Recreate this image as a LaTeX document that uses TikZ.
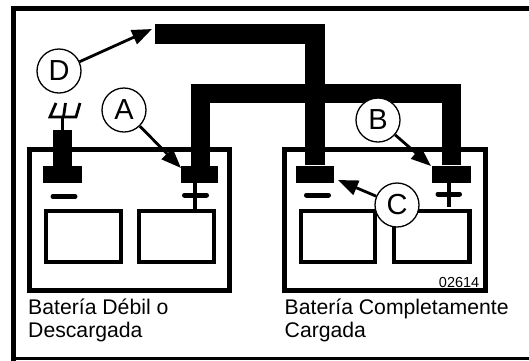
\documentclass[tikz,border=0pt]{standalone}
\usepackage{fontspec}
\setmainfont{Liberation Sans}
\usetikzlibrary{arrows.meta}
\tikzset{
  x=1pt,y=-1pt,
  solid box/.style={fill=black,draw=none,inner sep=0pt,minimum height=17pt},
  outline/.style={draw=black,line width=4.4pt,fill=none},
  callout/.style={circle,draw=black,fill=white,line width=1.3pt,minimum size=44pt,inner sep=0pt,font=\fontsize{29}{29}\selectfont},
  pointer/.style={draw=black,line width=2.8pt,-{Triangle[length=20pt,width=15pt]}},
  cable/.style={draw=black,line width=19pt,line cap=butt,line join=miter},
  caption/.style={anchor=base west,inner sep=0pt,font=\fontsize{21.2}{21.2}\selectfont},
}
\begin{document}
\begin{tikzpicture}
\useasboundingbox (0,0) rectangle (529,360);
% outer frame
\draw[draw=black,line width=5.5pt] (13.7,362) -- (13.7,8.7) -- (532,8.7);
\draw[draw=black,line width=2.5pt] (13.7,358.7) -- (532,358.7);
% batteries
\draw[outline,line width=5pt] (29.5,149.5) rectangle (229.7,290.7);
\draw[outline,line width=5pt] (284.2,149.5) rectangle (485.2,290.7);
% cells
\draw[outline] (45.7,211.2) rectangle (120.8,261.8);
\draw[outline] (138.7,211.2) rectangle (213.8,261.8);
\draw[outline] (301.2,211.2) rectangle (374.8,261.8);
\draw[outline] (394.2,211.2) rectangle (469.5,261.8);
% terminals
\node[solid box,minimum width=38.5pt] (t1) at (62.7,174.5) {};
\node[solid box,minimum width=37.5pt] (t2) at (199.7,174.5) {};
\node[solid box,minimum width=38pt] (t3) at (315,174) {};
\node[solid box,minimum width=39pt] (t4) at (451.2,174) {};
% cables
\coordinate (upstart) at (155,34);
\coordinate (upcorner) at (315.2,34);
\coordinate (lowleft) at (200,93.5);
\coordinate (lowright) at (451.3,93.5);
\draw[cable,line width=20pt] (upstart) -- (upcorner) -- (upcorner |- t3.north);
\draw[cable] (t2.north -| lowleft) -- (lowleft) -- (lowright) -- (lowright |- t4.north);
% clamp post and plug
\coordinate (posttop) at (62.5,130);
\draw[cable] (posttop) -- (posttop |- t1.north);
\coordinate (forkbase) at (62.5,117);
\draw[line width=3pt,line cap=butt] (forkbase) -- (posttop);
\draw[line width=2.8pt,line join=miter] (56,103) -- (50,117) -- (76,117) -- (80,103);
\draw[line width=2.8pt] (63.5,117) -- (65.5,103);
% signs
\draw[line width=5pt,line cap=round] (53,196.5) -- (75,196.5);
\draw[line width=5pt,line cap=round] (184.5,195) -- (206.5,195);
\draw[line width=4pt] (195,183) -- (195,209);
\draw[line width=5pt,line cap=round] (306.5,195) -- (328.5,195);
\draw[line width=5pt,line cap=round] (438,194) -- (459.5,194);
\draw[line width=4pt] (449,183) -- (449,207);
% callouts
\node[callout] (D) at (59,71) {D};
\node[callout] (A) at (124,110) {A};
\node[callout] (B) at (378,120) {B};
\node[callout] (C) at (397,205) {C};
\coordinate (dtip) at (152,29);
\coordinate (atip) at (181,168);
\coordinate (btip) at (431,166);
\coordinate (ctip) at (338,180);
\draw[pointer] (D) -- (dtip);
\draw[pointer] (A) -- (atip);
\draw[pointer] (B) -- (btip);
\draw[pointer] (C) -- (ctip);
% texts
\node[caption] (cap1) at (28,314) {Batería Débil o};
\node[caption] (cap2) at (28,337) {Descargada};
\node[caption] (cap3) at (284.5,314) {Batería Completamente};
\node[caption] (cap4) at (284.5,337) {Cargada};
\node[anchor=base east,inner sep=0pt,font=\fontsize{14.5}{14.5}\selectfont] (num) at (479.5,287) {02614};
\end{tikzpicture}
\end{document}
